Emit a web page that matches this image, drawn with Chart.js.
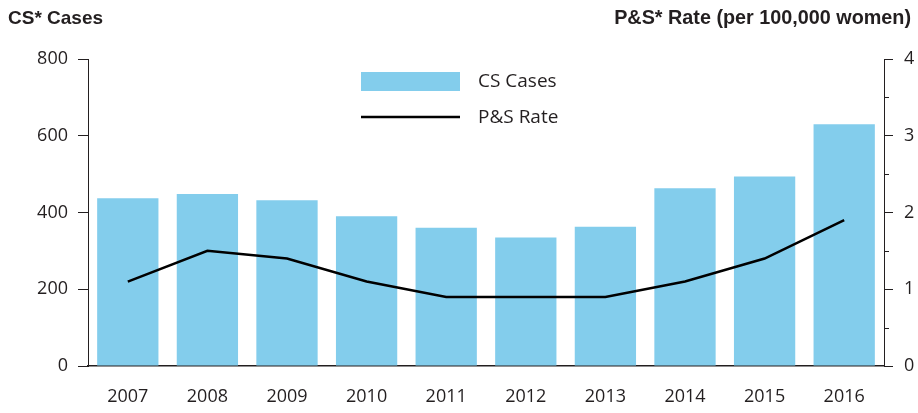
<!DOCTYPE html>
<html>
<head>
<meta charset="utf-8">
<script src="https://cdn.jsdelivr.net/npm/chart.js@4.4.0/dist/chart.umd.min.js"></script>
<style>
  html, body { margin: 0; padding: 0; background: #fff; }
  #wrap { position: relative; width: 918px; height: 413px; }
</style>
</head>
<body>
<div id="wrap"><canvas id="csChart" width="918" height="413"></canvas></div>
<script>
// Congenital syphilis cases vs. P&S syphilis rate among women
const years = ['2007', '2008', '2009', '2010', '2011', '2012', '2013', '2014', '2015', '2016'];
const csCases = [437, 448, 432, 390, 360, 335, 363, 463, 494, 630];
const psRate = [1.1, 1.5, 1.4, 1.1, 0.9, 0.9, 0.9, 1.1, 1.4, 1.9];
const leftTicks = [0, 200, 400, 600, 800];
const rightTicks = [0, 1, 2, 3, 4];

const TEXT = '#231f20';
const BAR_BLUE = '#83cdec';
const FONT = '"Open Sans", sans-serif';

// Axis headings above each y axis
const headings = {
  id: 'headings',
  afterDraw(chart) {
    const ctx = chart.ctx;
    ctx.save();
    ctx.fillStyle = TEXT;
    ctx.textBaseline = 'middle';
    ctx.textAlign = 'left';
    ctx.font = 'bold 19px "Liberation Sans", sans-serif';
    ctx.fillText('CS* Cases', 8, 19);
    ctx.textAlign = 'right';
    ctx.font = 'bold 19.8px "Liberation Sans", sans-serif';
    ctx.fillText('P&S* Rate (per 100,000 women)', 911, 19);
    ctx.restore();
  }
};

// Half-step minor ticks on the rate axis
const minorTicks = {
  id: 'minorTicks',
  afterDraw(chart) {
    const scale = chart.scales.y1;
    const ctx = chart.ctx;
    ctx.save();
    ctx.strokeStyle = TEXT;
    ctx.lineWidth = 1;
    for (let v = 0.5; v < scale.max; v += 1) {
      const y = Math.round(scale.getPixelForValue(v)) + 0.5;
      ctx.beginPath();
      ctx.moveTo(scale.left, y);
      ctx.lineTo(scale.left + 5, y);
      ctx.stroke();
    }
    ctx.restore();
  }
};

// Legend block inside the plot
const insetLegend = {
  id: 'insetLegend',
  afterDraw(chart) {
    const ctx = chart.ctx;
    const [bars, line] = chart.data.datasets;
    ctx.save();
    ctx.font = '19px ' + FONT;
    ctx.textBaseline = 'middle';
    ctx.textAlign = 'left';
    ctx.fillStyle = bars.backgroundColor;
    ctx.fillRect(361, 72, 99, 19);
    ctx.fillStyle = TEXT;
    ctx.fillText(bars.label, 478, 82);
    ctx.strokeStyle = line.borderColor;
    ctx.lineWidth = line.borderWidth;
    ctx.beginPath();
    ctx.moveTo(361, 117);
    ctx.lineTo(460, 117);
    ctx.stroke();
    ctx.fillText(line.label, 478, 118);
    ctx.restore();
  }
};

new Chart(document.getElementById('csChart'), {
  type: 'bar',
  data: {
    labels: years,
    datasets: [
      {
        type: 'bar',
        label: 'CS Cases',
        data: csCases,
        backgroundColor: BAR_BLUE,
        yAxisID: 'y',
        categoryPercentage: 1,
        barPercentage: 0.77,
        order: 1,
      },
      {
        type: 'line',
        label: 'P&S Rate',
        data: psRate,
        borderColor: '#000',
        borderWidth: 2.5,
        pointRadius: 0,
        tension: 0,
        fill: false,
        yAxisID: 'y1',
        order: 0,
      }
    ]
  },
  options: {
    responsive: false,
    animation: false,
    layout: { autoPadding: false, padding: { top: 59, left: 0, right: 0, bottom: 0 } },
    plugins: { legend: { display: false }, tooltip: { enabled: false } },
    scales: {
      x: {
        grid: { display: false },
        border: { display: true, color: TEXT, width: 1.5 },
        ticks: { color: TEXT, font: { family: FONT, size: 18 }, padding: 12 },
        afterFit(s) { s.height = 47; }
      },
      y: {
        position: 'left',
        min: 0,
        max: 800,
        afterBuildTicks(s) { s.ticks = leftTicks.map(v => ({ value: v })); },
        grid: { drawOnChartArea: false, drawTicks: true, tickLength: 10, tickColor: TEXT },
        border: { display: true, color: TEXT, width: 1 },
        ticks: { color: TEXT, font: { family: FONT, size: 18 }, padding: 10 },
        afterFit(s) { s.width = 88; }
      },
      y1: {
        position: 'right',
        min: 0,
        max: 4,
        afterBuildTicks(s) { s.ticks = rightTicks.map(v => ({ value: v })); },
        grid: { drawOnChartArea: false, drawTicks: true, tickLength: 9, tickColor: TEXT },
        border: { display: true, color: TEXT, width: 1 },
        ticks: { color: TEXT, font: { family: FONT, size: 18 }, padding: 11 },
        afterFit(s) { s.width = 34; }
      }
    }
  },
  plugins: [headings, minorTicks, insetLegend]
});
</script>
</body>
</html>
